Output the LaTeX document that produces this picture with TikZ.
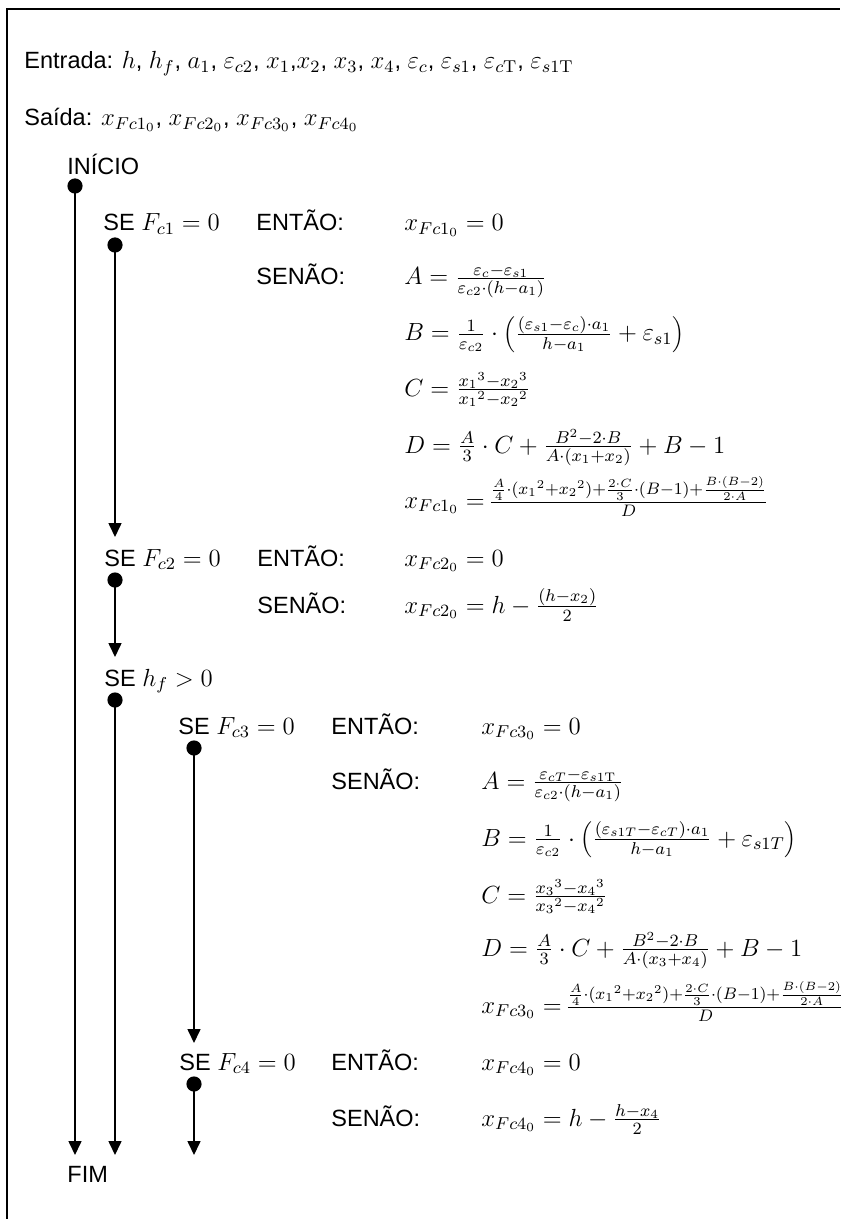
\documentclass[tikz,border=0pt]{standalone}
\usepackage{fix-cm}
\usepackage{graphicx}
\usepackage[no-math]{fontspec}
\setmainfont{Liberation Sans}
\usetikzlibrary{arrows.meta}
\DeclareMathSizes{11.75}{12.4}{8.6}{6.2}
\newcommand{\fitfrac}[1]{\resizebox{140pt}{!}{#1}}
\tikzset{
  txt/.style={anchor=base west, inner sep=0pt, font=\fontsize{11.75}{14}\selectfont},
  dot/.style={circle, fill=black, inner sep=0pt, minimum size=7.6pt},
  flow/.style={line width=0.8pt, -{Triangle[length=7pt,width=6.5pt]}},
  frame/.style={line width=1.1pt}
}
\begin{document}
\begin{tikzpicture}[x=0.5pt,y=-0.5pt]
\useasboundingbox (0,0) rectangle (840,1219);
\draw[frame] (7,1219) -- (7,9) -- (840,9);

\node[txt] (entrada) at (24,69) {Entrada: $h$, $h_f$, $a_1$, $\varepsilon_{c2}$, $x_1$,$x_2$, $x_3$, $x_4$, $\varepsilon_c$, $\varepsilon_{s1}$, $\varepsilon_{c\mathrm{T}}$, $\varepsilon_{s1\mathrm{T}}$};
\node[txt] (saida) at (24,126) {Saída: $x_{Fc1_0}$, $x_{Fc2_0}$, $x_{Fc3_0}$, $x_{Fc4_0}$};
\node[txt] (inicio) at (67,175) {INÍCIO};
\node[dot] (d0) at (75,186) {};

% Fc1
\node[txt] (se1) at (103,231) {SE $F_{c1}=0$};
\node[txt] (ent1) at (256,231) {ENTÃO:};
\node[txt] (x1z) at (404,231) {$x_{Fc1_0}=0$};
\node[dot] (d1) at (115,245) {};
\node[txt] (sen1) at (256,285) {SENÃO:};
\node[txt] (A1) at (404,285) {$A=\frac{\varepsilon_c-\varepsilon_{s1}}{\varepsilon_{c2}\cdot(h-a_1)}$};
\node[txt] (B1) at (404,341) {$B=\frac{1}{\varepsilon_{c2}}\cdot\left(\frac{(\varepsilon_{s1}-\varepsilon_c)\cdot a_1}{h-a_1}+\varepsilon_{s1}\right)$};
\node[txt] (C1) at (404,396) {$C=\frac{{x_1}^3-{x_2}^3}{{x_1}^2-{x_2}^2}$};
\node[txt] (D1) at (404,453) {$D=\frac{A}{3}\cdot C+\frac{B^2-2\cdot B}{A\cdot(x_1+x_2)}+B-1$};
\node[txt] (X1) at (404,508) {$x_{Fc1_0}=$\,\fitfrac{$\frac{\frac{A}{4}\cdot({x_1}^2+{x_2}^2)+\frac{2\cdot C}{3}\cdot(B-1)+\frac{B\cdot(B-2)}{2\cdot A}}{D}$}};
\coordinate (t1) at (115,537);

% Fc2
\node[txt] (se2) at (104,566) {SE $F_{c2}=0$};
\node[txt] (ent2) at (257,566) {ENTÃO:};
\node[txt] (x2z) at (404,566) {$x_{Fc2_0}=0$};
\node[dot] (d2) at (115,580) {};
\node[txt] (sen2) at (257,613) {SENÃO:};
\node[txt] (X2) at (404,613) {$x_{Fc2_0}=h-\frac{(h-x_2)}{2}$};
\coordinate (t2) at (115,657);

% hf
\node[txt] (seh) at (104,686) {SE $h_f>0$};
\node[dot] (dh) at (115,700) {};

% Fc3
\node[txt] (se3) at (178,734) {SE $F_{c3}=0$};
\node[txt] (ent3) at (331,734) {ENTÃO:};
\node[txt] (x3z) at (481,734) {$x_{Fc3_0}=0$};
\node[dot] (d3) at (194,748) {};
\node[txt] (sen3) at (331,789) {SENÃO:};
\node[txt] (A3) at (481,789) {$A=\frac{\varepsilon_{cT}-\varepsilon_{s1\mathrm{T}}}{\varepsilon_{c2}\cdot(h-a_1)}$};
\node[txt] (B3) at (481,846) {$B=\frac{1}{\varepsilon_{c2}}\cdot\left(\frac{(\varepsilon_{s1T}-\varepsilon_{cT})\cdot a_1}{h-a_1}+\varepsilon_{s1T}\right)$};
\node[txt] (C3) at (481,903) {$C=\frac{{x_3}^3-{x_4}^3}{{x_3}^2-{x_4}^2}$};
\node[txt] (D3) at (481,956) {$D=\frac{A}{3}\cdot C+\frac{B^2-2\cdot B}{A\cdot(x_3+x_4)}+B-1$};
\node[txt] (X3) at (481,1013) {$x_{Fc3_0}=$\,\fitfrac{$\frac{\frac{A}{4}\cdot({x_1}^2+{x_2}^2)+\frac{2\cdot C}{3}\cdot(B-1)+\frac{B\cdot(B-2)}{2\cdot A}}{D}$}};
\coordinate (t3) at (194,1043);

% Fc4
\node[txt] (se4) at (179,1070) {SE $F_{c4}=0$};
\node[txt] (ent4) at (331,1070) {ENTÃO:};
\node[txt] (x4z) at (481,1070) {$x_{Fc4_0}=0$};
\node[dot] (d4) at (194,1084) {};
\node[txt] (sen4) at (331,1126) {SENÃO:};
\node[txt] (X4) at (481,1126) {$x_{Fc4_0}=h-\frac{h-x_4}{2}$};

\coordinate (te0) at (75,1155);
\coordinate (teh) at (115,1155);
\coordinate (te4) at (194,1155);
\node[txt] (fim) at (67,1182) {FIM};

\draw[flow] (d0.center) -- (te0);
\draw[flow] (d1.center) -- (t1);
\draw[flow] (d2.center) -- (t2);
\draw[flow] (dh.center) -- (teh);
\draw[flow] (d3.center) -- (t3);
\draw[flow] (d4.center) -- (te4);
\end{tikzpicture}
\end{document}
